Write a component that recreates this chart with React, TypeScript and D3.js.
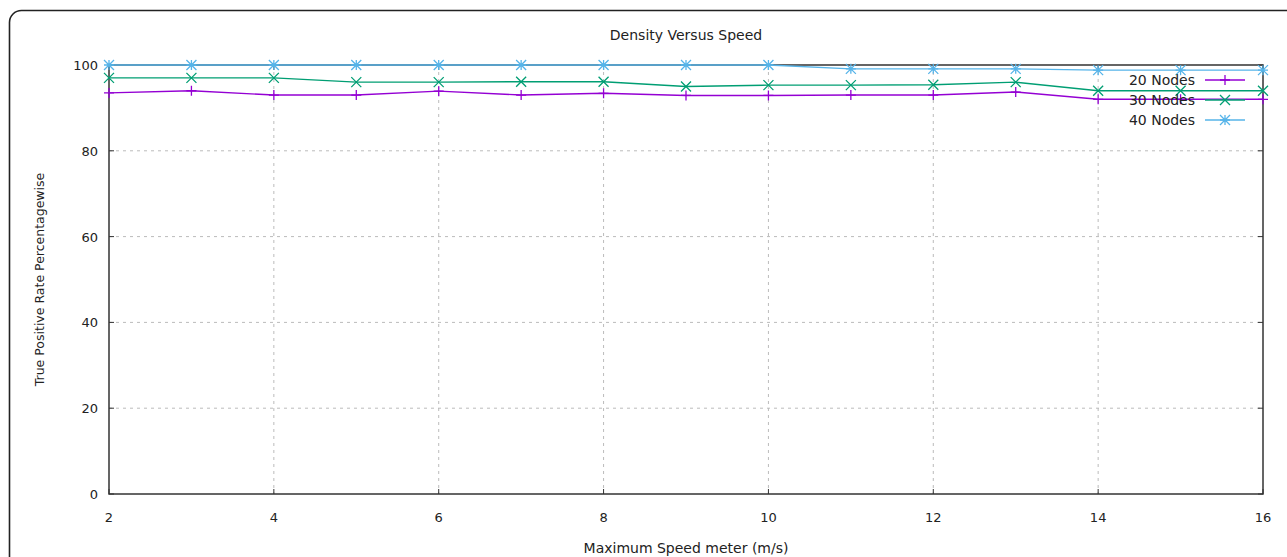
import React from "react";
import * as d3 from "d3";

const speeds = [2, 3, 4, 5, 6, 7, 8, 9, 10, 11, 12, 13, 14, 15, 16];
const nodes20 = [93.5, 94.0, 93.0, 93.0, 93.9, 93.0, 93.4, 92.9, 92.9, 93.0, 93.0, 93.7, 92.0, 92.0, 92.0];
const nodes30 = [97.0, 97.0, 97.0, 96.0, 96.0, 96.1, 96.1, 95.0, 95.3, 95.3, 95.4, 96.0, 94.0, 94.0, 94.0];
const nodes40 = [100, 100, 100, 100, 100, 100, 100, 100, 100, 99.1, 99.1, 99.1, 98.8, 98.8, 98.8];
const seriesNames = ["20 Nodes", "30 Nodes", "40 Nodes"];
const seriesColors = ["#9400d3", "#009e73", "#56b4e9"];
const xTicks = [2, 4, 6, 8, 10, 12, 14, 16];
const yTicks = [0, 20, 40, 60, 80, 100];

const W = 1287, H = 557;
const L = 109, R = 1263, T = 65, B = 494;
const FONT = "'DejaVu Sans', Verdana, sans-serif";

function Marker({ kind, x, y, color }: { kind: number; x: number; y: number; color: string }) {
  const s = 5;
  const plus = `M${x - s},${y}H${x + s}M${x},${y - s}V${y + s}`;
  const cross = `M${x - s},${y - s}L${x + s},${y + s}M${x - s},${y + s}L${x + s},${y - s}`;
  const d = kind === 0 ? plus : kind === 1 ? cross : plus + cross;
  return <path d={d} stroke={color} strokeWidth={1.3} fill="none" />;
}

export default function App() {
  const x = d3.scaleLinear().domain([2, 16]).range([L, R]);
  const y = d3.scaleLinear().domain([0, 100]).range([B, T]);
  const line = d3.line<[number, number]>().x((d) => x(d[0])).y((d) => y(d[1]));
  const all = [nodes20, nodes30, nodes40];

  return (
    <svg width={W} height={H} style={{ position: "absolute", left: 0, top: 0, background: "#fff" }}>
      <rect x={9.5} y={10.5} width={W + 20} height={H + 20} rx={12} fill="#fff" stroke="#222" strokeWidth={1.6} />
      {xTicks.slice(1, -1).map((t) => (
        <line key={"gx" + t} x1={x(t)} x2={x(t)} y1={T} y2={B} stroke="#bbb" strokeDasharray="3,4" strokeWidth={1} />
      ))}
      {yTicks.slice(1, -1).map((t) => (
        <line key={"gy" + t} x1={L} x2={R} y1={y(t)} y2={y(t)} stroke="#bbb" strokeDasharray="3,4" strokeWidth={1} />
      ))}
      {xTicks.map((t) => (
        <g key={"tx" + t}>
          <line x1={x(t)} x2={x(t)} y1={B} y2={B - 5} stroke="#333" />
          <line x1={x(t)} x2={x(t)} y1={T} y2={T + 5} stroke="#333" />
          <text x={x(t)} y={B + 28} textAnchor="middle" fontFamily={FONT} fontSize={13} fill="#222">{t}</text>
        </g>
      ))}
      {yTicks.map((t) => (
        <g key={"ty" + t}>
          <line x1={L} x2={L + 5} y1={y(t)} y2={y(t)} stroke="#333" />
          <line x1={R} x2={R - 5} y1={y(t)} y2={y(t)} stroke="#333" />
          <text x={L - 11} y={y(t) + 5} textAnchor="end" fontFamily={FONT} fontSize={13} fill="#222">{t}</text>
        </g>
      ))}
      <rect x={L} y={T} width={R - L} height={B - T} fill="none" stroke="#333" strokeWidth={1.5} />
      {all.map((vals, i) => {
        const pts = speeds.map((s, j) => [s, vals[j]] as [number, number]);
        return (
          <g key={"s" + i}>
            <path d={line(pts) || ""} fill="none" stroke={seriesColors[i]} strokeWidth={1.4} />
            {pts.map((p, j) => (
              <Marker key={j} kind={i} x={x(p[0])} y={y(p[1])} color={seriesColors[i]} />
            ))}
          </g>
        );
      })}
      {seriesNames.map((n, i) => {
        const ly = 80 + i * 20;
        return (
          <g key={"l" + i}>
            <text x={1195} y={ly + 5} textAnchor="end" fontFamily={FONT} fontSize={14} fill="#222">{n}</text>
            <line x1={1205} x2={1245} y1={ly} y2={ly} stroke={seriesColors[i]} strokeWidth={1.4} />
            <Marker kind={i} x={1225} y={ly} color={seriesColors[i]} />
          </g>
        );
      })}
      <text x={686} y={40} textAnchor="middle" fontFamily={FONT} fontSize={14} fill="#222">Density Versus Speed</text>
      <text x={686} y={553} textAnchor="middle" fontFamily={FONT} fontSize={14} fill="#222">Maximum Speed meter (m/s)</text>
      <text transform={`translate(44,${(T + B) / 2}) rotate(-90)`} textAnchor="middle" fontFamily={FONT} fontSize={12.5} fill="#222">True Positive Rate Percentagewise</text>
    </svg>
  );
}
